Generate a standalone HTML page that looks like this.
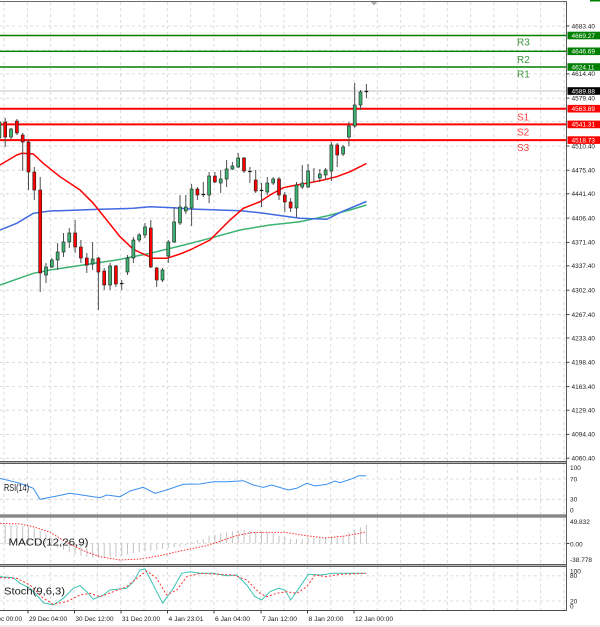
<!DOCTYPE html>
<html><head><meta charset="utf-8"><style>
html,body{margin:0;padding:0;background:#fff;}
svg{display:block;font-family:"Liberation Sans",sans-serif;}
</style></head><body>
<svg width="600" height="627" viewBox="0 0 600 627" xmlns="http://www.w3.org/2000/svg">
<defs>
<clipPath id="cm"><rect x="-2" y="2" width="568.5" height="459"/></clipPath>
<clipPath id="cs"><rect x="0" y="464" width="566.5" height="146"/></clipPath>
</defs>
<rect width="600" height="627" fill="#fff"/>

<!-- vertical grid -->
<g stroke="#d2d2d2" stroke-width="0.8" stroke-dasharray="3,3">
<line x1="4" y1="2" x2="4" y2="610"/><line x1="27.3" y1="2" x2="27.3" y2="610"/><line x1="50.7" y1="2" x2="50.7" y2="610"/><line x1="74" y1="2" x2="74" y2="610"/><line x1="97.3" y1="2" x2="97.3" y2="610"/><line x1="120.7" y1="2" x2="120.7" y2="610"/><line x1="144" y1="2" x2="144" y2="610"/><line x1="167.3" y1="2" x2="167.3" y2="610"/><line x1="190.7" y1="2" x2="190.7" y2="610"/><line x1="214" y1="2" x2="214" y2="610"/><line x1="237.3" y1="2" x2="237.3" y2="610"/><line x1="260.7" y1="2" x2="260.7" y2="610"/><line x1="284" y1="2" x2="284" y2="610"/><line x1="307.3" y1="2" x2="307.3" y2="610"/><line x1="330.7" y1="2" x2="330.7" y2="610"/><line x1="354" y1="2" x2="354" y2="610"/><line x1="377.3" y1="2" x2="377.3" y2="610"/><line x1="400.7" y1="2" x2="400.7" y2="610"/><line x1="424" y1="2" x2="424" y2="610"/><line x1="447.3" y1="2" x2="447.3" y2="610"/><line x1="470.7" y1="2" x2="470.7" y2="610"/><line x1="494" y1="2" x2="494" y2="610"/><line x1="517.3" y1="2" x2="517.3" y2="610"/><line x1="540.7" y1="2" x2="540.7" y2="610"/><line x1="564" y1="2" x2="564" y2="610"/>
</g>
<!-- horizontal grid main -->
<g stroke="#d2d2d2" stroke-width="0.8" stroke-dasharray="3,3">
<line x1="0" y1="26" x2="566" y2="26"/><line x1="0" y1="50.3" x2="566" y2="50.3"/><line x1="0" y1="73.9" x2="566" y2="73.9"/><line x1="0" y1="98.1" x2="566" y2="98.1"/><line x1="0" y1="121.7" x2="566" y2="121.7"/><line x1="0" y1="146" x2="566" y2="146"/><line x1="0" y1="170.2" x2="566" y2="170.2"/><line x1="0" y1="193.8" x2="566" y2="193.8"/><line x1="0" y1="218.1" x2="566" y2="218.1"/><line x1="0" y1="242.4" x2="566" y2="242.4"/><line x1="0" y1="265.9" x2="566" y2="265.9"/><line x1="0" y1="290.2" x2="566" y2="290.2"/><line x1="0" y1="314.5" x2="566" y2="314.5"/><line x1="0" y1="338" x2="566" y2="338"/><line x1="0" y1="362.3" x2="566" y2="362.3"/><line x1="0" y1="386.6" x2="566" y2="386.6"/><line x1="0" y1="410.2" x2="566" y2="410.2"/><line x1="0" y1="434.4" x2="566" y2="434.4"/><line x1="0" y1="458.2" x2="566" y2="458.2"/>
<line x1="0" y1="479" x2="566" y2="479"/><line x1="0" y1="499.3" x2="566" y2="499.3"/>
<line x1="0" y1="543.5" x2="566" y2="543.5"/>
<line x1="0" y1="575.9" x2="566" y2="575.9"/><line x1="0" y1="601" x2="566" y2="601"/>
</g>

<!-- top border and marker -->
<line x1="0" y1="1.5" x2="566.5" y2="1.5" stroke="#6a6a6a" stroke-width="1"/>
<polygon points="371,2 377,2 374,5.5" fill="#a8a8a8"/>

<g clip-path="url(#cm)">
<!-- current price line -->
<line x1="0" y1="91" x2="566" y2="91" stroke="#c4c4c4" stroke-width="1"/>
<!-- levels -->
<g stroke="#008000" stroke-width="1.4">
<line x1="0" y1="35.5" x2="567" y2="35.5"/><line x1="0" y1="51.3" x2="567" y2="51.3"/><line x1="0" y1="67" x2="567" y2="67"/>
</g>
<g stroke="#ff0000" stroke-width="2">
<line x1="0" y1="108.7" x2="567" y2="108.7"/><line x1="0" y1="124.4" x2="567" y2="124.4"/><line x1="0" y1="140.1" x2="567" y2="140.1"/>
</g>

<!-- MAs -->
<polyline fill="none" stroke="#3cb371" stroke-width="1.5" points="0,285 33.3,273.3 50,270 83.3,265 116.7,260 150,253.3 180,246 210,238.3 240,230 270,225 300,221.7 326.7,216 350,210 366.5,205"/>
<polyline fill="none" stroke="#4169e1" stroke-width="1.5" points="0,230 16.7,223.3 33.3,213.3 50,211 66.7,210.5 100,209.3 133.3,208.3 150,206.7 173.3,207.7 190,209 240,210.7 260,212.7 283.3,216 300,218.3 326.7,219.3 343.3,211 366.5,201.5"/>
<polyline fill="none" stroke="#ff0000" stroke-width="1.5" points="0,165 16.7,155 21.7,153.3 33.3,154 43.3,163.3 60,176.7 80,190 93.3,203.3 106.7,220 120,236.7 133.3,249.3 143.3,254 153.3,258.3 166.7,258.3 180,254 190,250 200,245 210,240 230,220 243.3,208.3 260,201.7 270,195 283.3,187.7 296.7,185 310,182.7 323.3,180 336.7,176.7 350,171.7 366.5,163.5"/>

<!-- wicks -->
<g stroke="#505050" stroke-width="1">
<line x1="-0.6" y1="118" x2="-0.6" y2="145"/><line x1="5.2" y1="118" x2="5.2" y2="147"/><line x1="11" y1="128" x2="11" y2="139"/><line x1="16.9" y1="119" x2="16.9" y2="135"/><line x1="22.7" y1="133" x2="22.7" y2="171"/><line x1="28.5" y1="140" x2="28.5" y2="190"/><line x1="34.3" y1="167" x2="34.3" y2="200"/><line x1="40.2" y1="177" x2="40.2" y2="292"/><line x1="46" y1="263" x2="46" y2="283"/><line x1="51.8" y1="258" x2="51.8" y2="268"/><line x1="57.6" y1="243" x2="57.6" y2="270"/><line x1="63.5" y1="233" x2="63.5" y2="257"/><line x1="69.3" y1="228" x2="69.3" y2="248"/><line x1="75.1" y1="220" x2="75.1" y2="253"/><line x1="80.9" y1="240" x2="80.9" y2="263"/><line x1="86.8" y1="253" x2="86.8" y2="273"/><line x1="92.6" y1="242" x2="92.6" y2="270"/><line x1="98.4" y1="257" x2="98.4" y2="310"/><line x1="104.2" y1="268" x2="104.2" y2="290"/><line x1="110.1" y1="263" x2="110.1" y2="290"/><line x1="115.9" y1="265" x2="115.9" y2="287"/><line x1="121.7" y1="280" x2="121.7" y2="290"/><line x1="127.5" y1="255" x2="127.5" y2="275"/><line x1="133.4" y1="237" x2="133.4" y2="263"/><line x1="139.2" y1="233" x2="139.2" y2="242"/><line x1="145" y1="223" x2="145" y2="238"/><line x1="150.8" y1="220" x2="150.8" y2="268"/><line x1="156.7" y1="267" x2="156.7" y2="287"/><line x1="162.5" y1="268" x2="162.5" y2="282"/><line x1="168.3" y1="240" x2="168.3" y2="263"/><line x1="174.1" y1="207" x2="174.1" y2="243"/><line x1="180" y1="195" x2="180" y2="225"/><line x1="185.8" y1="195" x2="185.8" y2="214"/><line x1="191.6" y1="184" x2="191.6" y2="226"/><line x1="197.4" y1="187" x2="197.4" y2="200"/><line x1="203.3" y1="182" x2="203.3" y2="197"/><line x1="209.1" y1="172" x2="209.1" y2="203"/><line x1="214.9" y1="172" x2="214.9" y2="183"/><line x1="220.7" y1="170" x2="220.7" y2="193"/><line x1="226.6" y1="160" x2="226.6" y2="187"/><line x1="232.4" y1="162" x2="232.4" y2="170"/><line x1="238.2" y1="153" x2="238.2" y2="168"/><line x1="244" y1="157" x2="244" y2="173"/><line x1="249.9" y1="167" x2="249.9" y2="183"/><line x1="255.7" y1="170" x2="255.7" y2="193"/><line x1="261.5" y1="183" x2="261.5" y2="207"/><line x1="267.3" y1="177" x2="267.3" y2="195"/><line x1="273.2" y1="177" x2="273.2" y2="185"/><line x1="279" y1="177" x2="279" y2="200"/><line x1="284.8" y1="192" x2="284.8" y2="212"/><line x1="290.6" y1="198" x2="290.6" y2="212"/><line x1="296.5" y1="182" x2="296.5" y2="217"/><line x1="302.3" y1="165" x2="302.3" y2="189"/><line x1="308.1" y1="164" x2="308.1" y2="188"/><line x1="313.9" y1="168" x2="313.9" y2="182"/><line x1="319.8" y1="169" x2="319.8" y2="182"/><line x1="325.6" y1="168" x2="325.6" y2="180"/><line x1="331.4" y1="142" x2="331.4" y2="181"/><line x1="337.2" y1="143" x2="337.2" y2="167"/><line x1="343.1" y1="145" x2="343.1" y2="156"/><line x1="348.9" y1="122" x2="348.9" y2="146"/><line x1="354.7" y1="83" x2="354.7" y2="128"/><line x1="360.5" y1="90" x2="360.5" y2="110"/><line x1="366.4" y1="84" x2="366.4" y2="98"/>
</g>
<!-- green bodies -->
<g fill="#3cb371" stroke="#1e1e1e" stroke-width="0.6">
<rect x="-2.1" y="122" width="3" height="16"/><rect x="9.5" y="129" width="3" height="8"/><rect x="44.5" y="267" width="3" height="8"/><rect x="50.3" y="260" width="3" height="7"/><rect x="56.1" y="252" width="3" height="8"/><rect x="62" y="242" width="3" height="10"/><rect x="67.8" y="233" width="3" height="9"/><rect x="91.1" y="259" width="3" height="5"/><rect x="108.6" y="266" width="3" height="19"/><rect x="126" y="258" width="3" height="14"/><rect x="131.9" y="240" width="3" height="18"/><rect x="137.7" y="235" width="3" height="5"/><rect x="143.5" y="227" width="3" height="8"/><rect x="161" y="270" width="3" height="10"/><rect x="166.8" y="242" width="3" height="14"/><rect x="172.6" y="222" width="3" height="20"/><rect x="178.5" y="207" width="3" height="16"/><rect x="184.3" y="207" width="3" height="4"/><rect x="190.1" y="189" width="3" height="19"/><rect x="207.6" y="176" width="3" height="19"/><rect x="219.2" y="179" width="3" height="4"/><rect x="225.1" y="169" width="3" height="10"/><rect x="230.9" y="166" width="3" height="3"/><rect x="236.7" y="158" width="3" height="9"/><rect x="265.8" y="183" width="3" height="9"/><rect x="271.7" y="179" width="3" height="4"/><rect x="295" y="185" width="3" height="23"/><rect x="300.8" y="183" width="3" height="4"/><rect x="306.6" y="171" width="3" height="16"/><rect x="318.3" y="174" width="3" height="4"/><rect x="324.1" y="170" width="3" height="5"/><rect x="329.9" y="145" width="3" height="26"/><rect x="341.6" y="147" width="3" height="7"/><rect x="347.4" y="126" width="3" height="11"/><rect x="353.2" y="105" width="3" height="21"/><rect x="359" y="92" width="3" height="13"/>
</g>
<!-- red bodies -->
<g fill="#ff0000" stroke="#1e1e1e" stroke-width="0.6">
<rect x="3.7" y="122" width="3" height="15"/><rect x="15.4" y="121" width="3" height="12"/><rect x="21.2" y="135" width="3" height="7"/><rect x="27" y="142" width="3" height="30"/><rect x="32.8" y="172" width="3" height="18"/><rect x="38.7" y="190" width="3" height="83"/><rect x="73.6" y="233" width="3" height="14"/><rect x="79.4" y="247" width="3" height="11"/><rect x="85.3" y="258" width="3" height="7"/><rect x="96.9" y="258" width="3" height="14"/><rect x="102.7" y="271" width="3" height="14"/><rect x="114.4" y="266" width="3" height="18"/><rect x="149.3" y="228" width="3" height="39"/><rect x="155.2" y="268" width="3" height="12"/><rect x="195.9" y="189" width="3" height="6"/><rect x="213.4" y="176" width="3" height="6"/><rect x="242.5" y="158" width="3" height="13"/><rect x="254.2" y="180" width="3" height="11"/><rect x="277.5" y="179" width="3" height="16"/><rect x="283.3" y="195" width="3" height="7"/><rect x="289.1" y="202" width="3" height="6"/><rect x="335.7" y="145" width="3" height="10"/>
</g>
<!-- doji -->
<g stroke="#111" stroke-width="1.2">
<line x1="119.9" y1="283.5" x2="123.5" y2="283.5"/><line x1="201.5" y1="194.5" x2="205.1" y2="194.5"/><line x1="248.1" y1="171.5" x2="251.7" y2="171.5"/><line x1="259.7" y1="190.5" x2="263.3" y2="190.5"/><line x1="364.6" y1="91.5" x2="368.2" y2="91.5"/>
</g>

<!-- R/S labels -->
<g font-size="10" fill="#3c963c">
<text x="517" y="45.5">R3</text><text x="517" y="63">R2</text><text x="517" y="77.5">R1</text>
</g>
<g font-size="10" fill="#ff4444">
<text x="517" y="120.5">S1</text><text x="517" y="135.5">S2</text><text x="517" y="151">S3</text>
</g>
</g>

<!-- sub panels content -->
<g clip-path="url(#cs)">
<!-- RSI -->
<polyline fill="none" stroke="#3a8ff0" stroke-width="1" points="0,478.3 20,483.3 33.3,488.3 40,499.3 53.3,496.7 70,493.3 86.7,495.7 100,497.7 106.7,495 120,496.7 130,491 143.3,487.3 155,493.3 166.7,490 183.3,484.3 200,484 213.3,481.7 226.7,481.7 243.3,480.7 253.3,485 263.3,487.3 271.7,485 288.3,490 296.7,488.3 306.7,483.3 315,486 326.7,484.3 335,481 340,482.7 353.3,478.3 358.3,475.7 366,475.7"/>
<!-- MACD bars -->
<g fill="#c4c4c4">
<rect x="-1.1" y="524" width="1" height="19.5"/><rect x="4.7" y="524.5" width="1" height="19"/><rect x="10.5" y="525" width="1" height="18.5"/><rect x="16.4" y="525.5" width="1" height="18"/><rect x="22.2" y="526" width="1" height="17.5"/><rect x="28" y="527" width="1" height="16.5"/><rect x="33.8" y="528.5" width="1" height="15"/><rect x="39.7" y="531" width="1" height="12.5"/><rect x="45.5" y="534" width="1" height="9.5"/><rect x="51.3" y="538" width="1" height="5.5"/>
<rect x="57.1" y="543.5" width="1" height="3.8"/><rect x="63" y="543.5" width="1" height="6.5"/><rect x="68.8" y="543.5" width="1" height="8.8"/><rect x="74.6" y="543.5" width="1" height="10.5"/><rect x="80.4" y="543.5" width="1" height="12.2"/><rect x="86.3" y="543.5" width="1" height="13.2"/><rect x="92.1" y="543.5" width="1" height="13.8"/><rect x="97.9" y="543.5" width="1" height="13.8"/><rect x="103.7" y="543.5" width="1" height="13.8"/><rect x="109.6" y="543.5" width="1" height="13.5"/><rect x="115.4" y="543.5" width="1" height="13.2"/><rect x="121.2" y="543.5" width="1" height="12.2"/><rect x="127" y="543.5" width="1" height="11.2"/><rect x="132.9" y="543.5" width="1" height="9.8"/><rect x="138.7" y="543.5" width="1" height="8.8"/><rect x="144.5" y="543.5" width="1" height="7.8"/><rect x="150.3" y="543.5" width="1" height="7.2"/><rect x="156.2" y="543.5" width="1" height="6.5"/><rect x="162" y="543.5" width="1" height="5.5"/><rect x="167.8" y="543.5" width="1" height="4.5"/><rect x="173.6" y="543.5" width="1" height="3.8"/><rect x="179.5" y="543.5" width="1" height="3.2"/><rect x="185.3" y="543.5" width="1" height="2"/>
<rect x="191.1" y="542.3" width="1" height="1.2"/><rect x="196.9" y="540" width="1" height="3.5"/><rect x="202.8" y="539" width="1" height="4.5"/><rect x="208.6" y="535.7" width="1" height="7.8"/><rect x="214.4" y="534.7" width="1" height="8.8"/><rect x="220.2" y="533.3" width="1" height="10.2"/><rect x="226.1" y="532.3" width="1" height="11.2"/><rect x="231.9" y="531.3" width="1" height="12.2"/><rect x="237.7" y="530.7" width="1" height="12.8"/><rect x="243.5" y="530" width="1" height="13.5"/><rect x="249.4" y="530.7" width="1" height="12.8"/><rect x="255.2" y="531.3" width="1" height="12.2"/><rect x="261" y="531.3" width="1" height="12.2"/><rect x="266.8" y="532.3" width="1" height="11.2"/><rect x="272.7" y="533.3" width="1" height="10.2"/><rect x="278.5" y="535.7" width="1" height="7.8"/><rect x="284.3" y="536.7" width="1" height="6.8"/><rect x="290.1" y="539" width="1" height="4.5"/><rect x="296" y="539" width="1" height="4.5"/><rect x="301.8" y="539" width="1" height="4.5"/><rect x="307.6" y="538" width="1" height="5.5"/><rect x="313.4" y="538" width="1" height="5.5"/><rect x="319.3" y="538" width="1" height="5.5"/><rect x="325.1" y="537.3" width="1" height="6.2"/><rect x="330.9" y="536.7" width="1" height="6.8"/><rect x="336.7" y="535.7" width="1" height="7.8"/><rect x="342.6" y="535.7" width="1" height="7.8"/><rect x="348.4" y="532.3" width="1" height="11.2"/><rect x="354.2" y="530" width="1" height="13.5"/><rect x="360" y="527.3" width="1" height="16.2"/><rect x="365.9" y="524.7" width="1" height="18.8"/>
</g>
<polyline fill="none" stroke="#ff3030" stroke-width="1" stroke-dasharray="1.5,1.5" points="0,523.3 20,524 33.3,526.7 50,532.3 66.7,542.3 83.3,550.7 100,556.7 120,560 140,559 160,555.7 180,551 190,549 205,546 218,542 235,536 252,532.5 285,532.3 305,535.5 325,538 345,536 366,532"/>
<!-- Stoch -->
<polyline fill="none" stroke="#3cc4b4" stroke-width="1" points="0,576.7 13.3,577.7 20,583.3 30,588.3 36.7,595 43.3,602.7 53.3,605 63.3,598.3 73.3,588.3 80,585.7 86.7,591.7 93.3,599.3 103.3,595 110,590 126.7,588.3 133.3,581.7 140,570 145,569 153.3,585 162.7,603.3 173.3,588.3 181.7,573.3 190,571.7 200,573.3 213,573.3 226.7,575.7 236.7,575 246.7,585 255,596.7 261.7,600 270,591.7 278.3,588.3 285,590 290.7,600 300,586.7 308.3,574.3 320,575 333.3,573.3 353,573.3 366,573.3"/>
<polyline fill="none" stroke="#ff3030" stroke-width="1" stroke-dasharray="2,2" points="0,577.7 16.7,578.3 30,585 43.3,598.3 53.3,604.3 66.7,601.7 80,595 90,593.3 100,596.7 113.3,591.7 126.7,586.7 136.7,578.3 146.7,571 156.7,578.3 166.7,595 176.7,590 186.7,576.7 200,573.3 233.3,575 246.7,580 260,593.3 266.7,596.7 276.7,593.3 286.7,591.7 296.7,593.3 306.7,586.7 315,575 326.7,576.7 340,574.3 366,573.3"/>
</g>

<!-- indicator labels -->
<g font-size="10" fill="#1a1a1a">
<text x="4" y="491" textLength="25" lengthAdjust="spacingAndGlyphs">RSI(14)</text>
<text x="8.5" y="545.5" textLength="80" lengthAdjust="spacingAndGlyphs">MACD(12,26,9)</text>
<text x="4" y="594.5" textLength="61" lengthAdjust="spacingAndGlyphs">Stoch(9,6,3)</text>
</g>

<!-- separators -->
<g>
<rect x="0" y="461" width="567" height="3" fill="#b4b4b4"/><line x1="0" y1="461.5" x2="567" y2="461.5" stroke="#5a5a5a"/><line x1="0" y1="463.5" x2="567" y2="463.5" stroke="#5a5a5a"/>
<rect x="0" y="514.5" width="567" height="3" fill="#b4b4b4"/><line x1="0" y1="515" x2="567" y2="515" stroke="#5a5a5a"/><line x1="0" y1="517" x2="567" y2="517" stroke="#5a5a5a"/>
<rect x="0" y="564" width="567" height="3" fill="#b4b4b4"/><line x1="0" y1="564.5" x2="567" y2="564.5" stroke="#5a5a5a"/><line x1="0" y1="566.5" x2="567" y2="566.5" stroke="#5a5a5a"/>
<line x1="0" y1="610.5" x2="567" y2="610.5" stroke="#4a4a4a"/>
<line x1="566.5" y1="1" x2="566.5" y2="611" stroke="#5a5a5a"/>
</g>

<!-- right axis ticks -->
<g stroke="#444" stroke-width="1">
<line x1="566.5" y1="26" x2="569.5" y2="26"/><line x1="566.5" y1="73.9" x2="569.5" y2="73.9"/><line x1="566.5" y1="98.1" x2="569.5" y2="98.1"/><line x1="566.5" y1="146" x2="569.5" y2="146"/><line x1="566.5" y1="170.2" x2="569.5" y2="170.2"/><line x1="566.5" y1="193.8" x2="569.5" y2="193.8"/><line x1="566.5" y1="218.1" x2="569.5" y2="218.1"/><line x1="566.5" y1="242.4" x2="569.5" y2="242.4"/><line x1="566.5" y1="265.9" x2="569.5" y2="265.9"/><line x1="566.5" y1="290.2" x2="569.5" y2="290.2"/><line x1="566.5" y1="314.5" x2="569.5" y2="314.5"/><line x1="566.5" y1="338" x2="569.5" y2="338"/><line x1="566.5" y1="362.3" x2="569.5" y2="362.3"/><line x1="566.5" y1="386.6" x2="569.5" y2="386.6"/><line x1="566.5" y1="410.2" x2="569.5" y2="410.2"/><line x1="566.5" y1="434.4" x2="569.5" y2="434.4"/><line x1="566.5" y1="458.2" x2="569.5" y2="458.2"/>
<line x1="566.5" y1="543.5" x2="569.5" y2="543.5"/>
<line x1="28" y1="610.5" x2="28" y2="613.5"/><line x1="74.5" y1="610.5" x2="74.5" y2="613.5"/><line x1="121" y1="610.5" x2="121" y2="613.5"/><line x1="167.5" y1="610.5" x2="167.5" y2="613.5"/><line x1="214" y1="610.5" x2="214" y2="613.5"/><line x1="261" y1="610.5" x2="261" y2="613.5"/><line x1="307.5" y1="610.5" x2="307.5" y2="613.5"/><line x1="354" y1="610.5" x2="354" y2="613.5"/>
</g>

<!-- right axis labels -->
<g font-size="6.5" fill="#222">
<text x="571.5" y="28.3">4683.40</text><text x="571.5" y="76.2">4614.40</text><text x="571.5" y="100.4">4579.40</text><text x="571.5" y="148.3">4510.40</text><text x="571.5" y="172.5">4475.40</text><text x="571.5" y="196.1">4441.40</text><text x="571.5" y="220.4">4406.40</text><text x="571.5" y="244.7">4371.40</text><text x="571.5" y="268.2">4337.40</text><text x="571.5" y="292.5">4302.40</text><text x="571.5" y="316.8">4267.40</text><text x="571.5" y="340.3">4233.40</text><text x="571.5" y="364.6">4198.40</text><text x="571.5" y="388.9">4163.40</text><text x="571.5" y="412.5">4129.40</text><text x="571.5" y="436.7">4094.40</text><text x="571.5" y="460.3">4060.40</text>
<text x="570" y="470">100</text><text x="570" y="481.3">70</text><text x="570" y="501.6">30</text><text x="570" y="512.3">0</text>
<text x="570" y="524">49.832</text><text x="570" y="546.3">0.00</text><text x="570" y="562">-38.778</text>
<text x="570" y="573.3">100</text><text x="570" y="578">80</text><text x="570" y="603.3">20</text><text x="570" y="608.3">0</text>
</g>

<!-- level boxes -->
<g>
<rect x="567.5" y="31.7" width="33" height="7.6" fill="#008000"/>
<rect x="567.5" y="47.5" width="33" height="7.6" fill="#008000"/>
<rect x="567.5" y="63.2" width="33" height="7.6" fill="#008000"/>
<rect x="567.5" y="87.2" width="33" height="7.6" fill="#000"/>
<rect x="567.5" y="104.9" width="33" height="7.6" fill="#ff0000"/>
<rect x="567.5" y="120.6" width="33" height="7.6" fill="#ff0000"/>
<rect x="567.5" y="136.3" width="33" height="7.6" fill="#ff0000"/>
</g>
<g font-size="6.5" fill="#fff">
<text x="571.5" y="37.8">4669.27</text><text x="571.5" y="53.6">4646.69</text><text x="571.5" y="69.3">4624.11</text><text x="571.5" y="93.3">4589.88</text><text x="571.5" y="111">4563.89</text><text x="571.5" y="126.7">4541.31</text><text x="571.5" y="142.4">4518.73</text>
</g>
<rect x="590" y="0" width="10" height="1.5" fill="#008000"/>

<!-- x axis labels -->
<g font-size="6.5" fill="#222">
<text x="-16" y="621" textLength="38" lengthAdjust="spacingAndGlyphs">28 Dec 00:00</text>
<text x="29" y="621" textLength="38" lengthAdjust="spacingAndGlyphs">29 Dec 04:00</text>
<text x="75.5" y="621" textLength="38" lengthAdjust="spacingAndGlyphs">30 Dec 12:00</text>
<text x="122" y="621" textLength="38" lengthAdjust="spacingAndGlyphs">31 Dec 20:00</text>
<text x="168.5" y="621" textLength="35" lengthAdjust="spacingAndGlyphs">4 Jan 23:01</text>
<text x="215" y="621" textLength="35" lengthAdjust="spacingAndGlyphs">6 Jan 04:00</text>
<text x="262" y="621" textLength="35" lengthAdjust="spacingAndGlyphs">7 Jan 12:00</text>
<text x="308.5" y="621" textLength="35" lengthAdjust="spacingAndGlyphs">8 Jan 20:00</text>
<text x="355" y="621" textLength="38" lengthAdjust="spacingAndGlyphs">12 Jan 00:00</text>
</g>
<rect x="0" y="625" width="600" height="2" fill="#ececec"/>
</svg>
</body></html>
